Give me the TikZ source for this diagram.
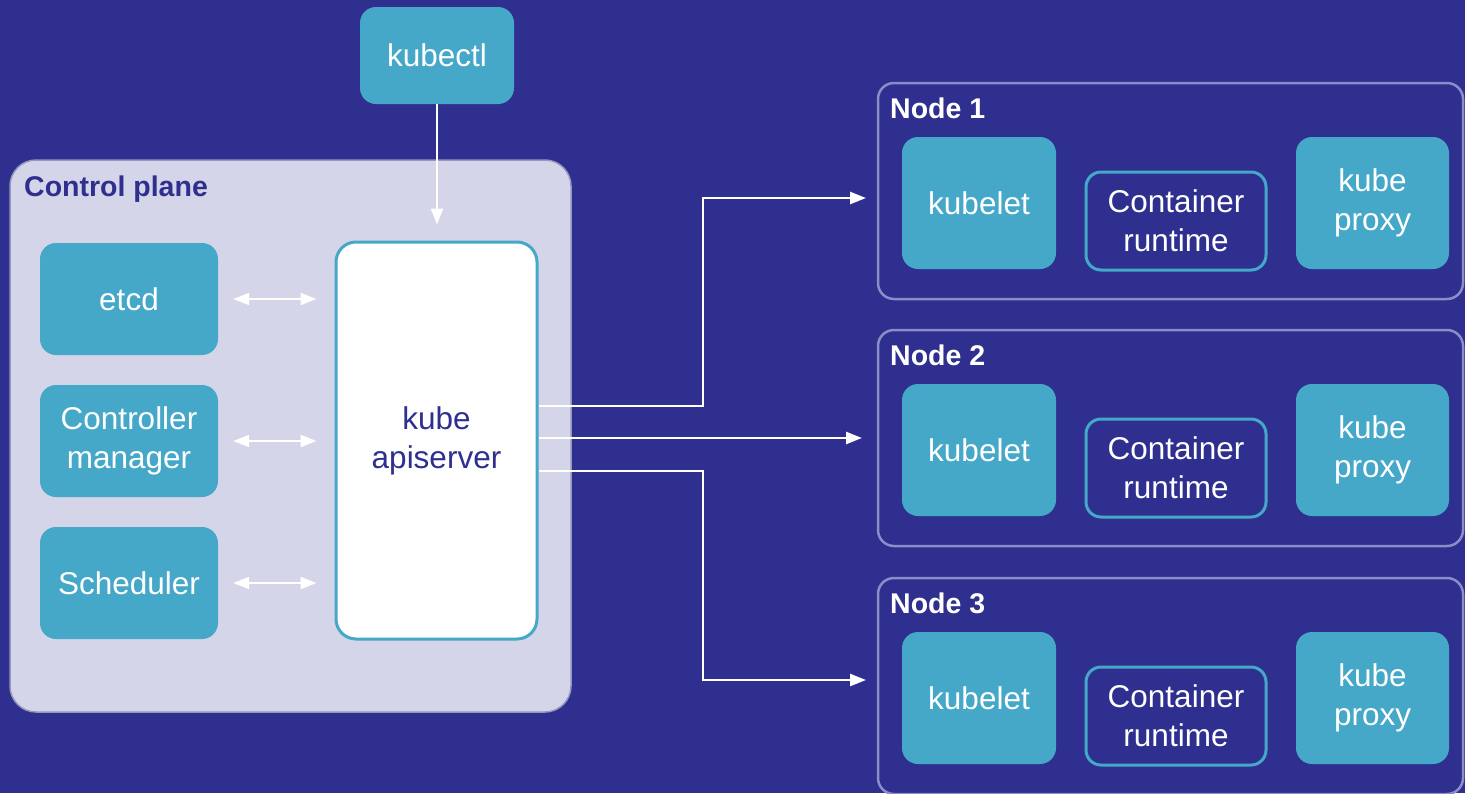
\documentclass[tikz,border=0pt]{standalone}
\usepackage{fontspec}
\setmainfont{Liberation Sans}
\usetikzlibrary{arrows.meta,calc}
\definecolor{bgblue}{RGB}{46,47,143}
\definecolor{teal}{RGB}{70,168,200}
\definecolor{cpfill}{RGB}{213,213,233}
\definecolor{cpline}{RGB}{150,150,190}
\definecolor{nodeline}{RGB}{140,140,200}
\tikzset{
  comp/.style={fill=teal, text=white, rounded corners=16pt, align=center,
    inner sep=0pt, font=\fontsize{31.5}{39}\selectfont},
  runtime/.style={draw=teal, line width=3pt, fill=bgblue, text=white,
    rounded corners=15pt, align=center, inner sep=0pt,
    font=\fontsize{31.5}{39}\selectfont},
  hostbox/.style={draw=nodeline, line width=2.5pt, rounded corners=16pt},
  title/.style={anchor=west, inner sep=0pt, font=\fontsize{28.5}{32}\selectfont\bfseries},
  link/.style={draw=white, line width=2.5pt, -{Triangle[length=16pt,width=12pt]}},
  duplex/.style={draw=white, line width=2pt,
    {Triangle[length=16pt,width=12pt]}-{Triangle[length=16pt,width=12pt]}},
}
\begin{document}
\begin{tikzpicture}[x=1pt,y=-1pt]
  % canvas
  \fill[bgblue] (0,0) rectangle (1465,793);
  \useasboundingbox (0,0) rectangle (1465,793);

  % control plane frame
  \draw[fill=cpfill, draw=cpline, line width=1.5pt, rounded corners=26pt]
    (10,160) rectangle (571,712);
  \node[title, text=bgblue] (cptitle) at (24,189) {Control plane};

  % client
  \node[comp, minimum width=154pt, minimum height=97pt] (kubectl) at (437,55.5) {kubectl};

  % control plane components
  \node[comp, minimum width=178pt, minimum height=112pt] (etcd) at (129,299) {etcd};
  \node[comp, minimum width=178pt, minimum height=112pt] (cm) at (129,441) {Controller\\manager};
  \node[comp, minimum width=178pt, minimum height=112pt] (sched) at (129,583) {Scheduler};
  \node[draw=teal, line width=3pt, fill=white, text=bgblue, rounded corners=20pt,
        align=center, inner sep=0pt, minimum width=201pt, minimum height=397pt,
        font=\fontsize{31.5}{39}\selectfont] (api) at (436.5,440.5) {kube\\apiserver};

  \draw[link, shorten >=16pt] (kubectl.south) -- (kubectl.south |- api.north);
  \draw[duplex, shorten <=15pt, shorten >=18pt] (etcd.east) -- (etcd.east -| api.west);
  \draw[duplex, shorten <=15pt, shorten >=18pt] (cm.east) -- (cm.east -| api.west);
  \draw[duplex, shorten <=15pt, shorten >=18pt] (sched.east) -- (sched.east -| api.west);

  % worker nodes
  \foreach \i/\dy in {1/0,2/247,3/495} {
    \draw[hostbox] (878,83+\dy) rectangle (1463,299+\dy);
    \node[title, text=white] (title\i) at (890,108+\dy) {Node \i};
    \node[comp, minimum width=154pt, minimum height=132pt] (kubelet\i) at (979,203+\dy) {kubelet};
    \node[runtime, minimum width=180pt, minimum height=98pt] (rt\i) at (1176,221+\dy) {Container\\runtime};
    \node[comp, minimum width=153pt, minimum height=132pt] (proxy\i) at (1372.5,203+\dy) {kube\\proxy};
  }

  % routes from the apiserver to each node
  \coordinate (in1) at (866,198);
  \coordinate (in2) at (862,438);
  \coordinate (in3) at (866,680);
  \draw[link] ([yshift=34.5pt]api.east) -| (703,198) -- (in1);
  \draw[link] ([yshift=2.5pt]api.east) -- (in2);
  \draw[link] ([yshift=-30.5pt]api.east) -| (703,680) -- (in3);
\end{tikzpicture}
\end{document}
